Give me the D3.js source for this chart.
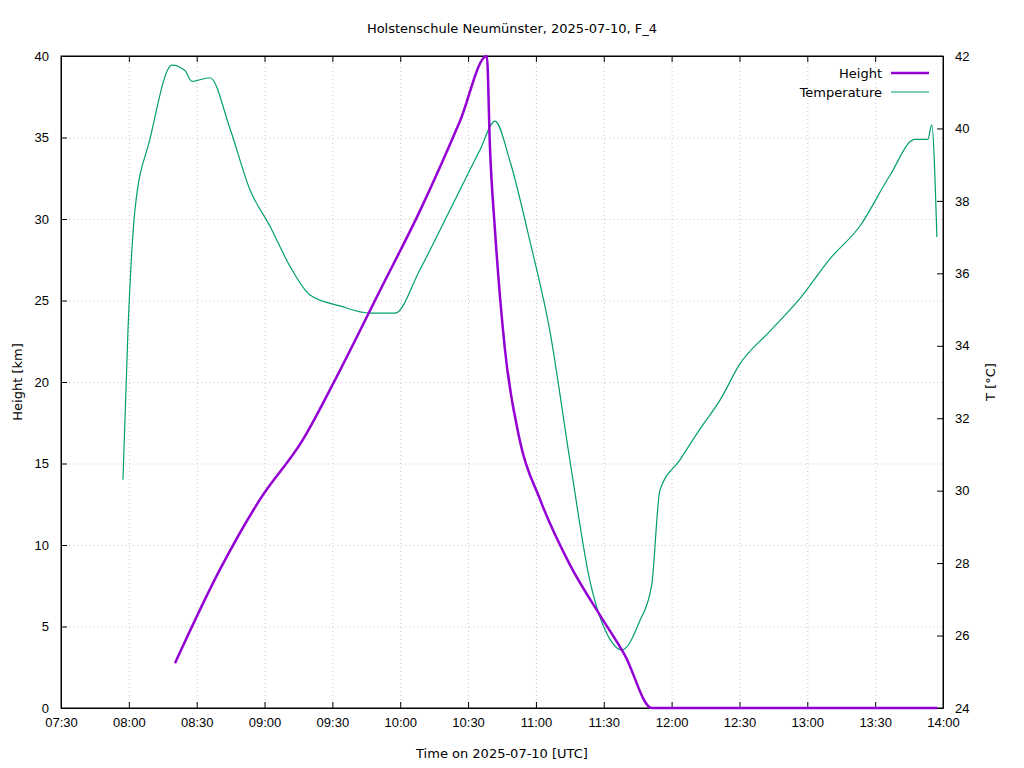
<!DOCTYPE html>
<html lang="en">
<head>
<meta charset="UTF-8">
<title>Holstenschule Neumünster</title>
<script src="https://d3js.org/d3.v7.min.js"></script>
<style>
  body { margin: 0; background: #fff; }
  svg { font-family: "DejaVu Sans", sans-serif; font-size: 13px; }
  .grid line { stroke: #c8c8c8; stroke-dasharray: 1,3; }
</style>
</head>
<body>
<svg width="1024" height="768"></svg>
<script>
// height track [km]
let heightTimes = ["08:20:24","08:40:18","08:58:00","09:16:42","09:33:18","09:51:00","10:08:42","10:26:24","10:38:18",
                   "10:39:42","10:41:54","10:46:18","10:52:54","11:01:48","11:15:00","11:28:18","11:39:18","11:51:18","13:57:30"];
let heightKm = [2.75, 8.5, 12.8, 16.4, 20.7, 25.6, 30.5, 36, 40,
                34.3, 29.3, 22, 16.4, 12.8, 8.8, 5.7, 3.25, 0, 0];

// temperature track [°C]
let tempTimes = ["07:57:24","07:59:36","08:02:42","08:09:18","08:19:06","08:24:48","08:27:54","08:35:54","08:44:42",
                 "08:53:36","09:02:24","09:11:12","09:20:06","09:33:18","09:46:36","09:57:42","10:08:42","10:22:00",
                 "10:35:12","10:41:54","10:48:30","10:57:18","11:06:12","11:15:00","11:23:54","11:32:42","11:38:00",
                 "11:45:54","11:51:12","11:54:48","12:03:42","12:12:30","12:21:24","12:30:12","12:43:24","12:56:42",
                 "13:10:00","13:23:12","13:36:30","13:47:30","13:53:18","13:55:00","13:57:18"];
let tempC = [30.3, 34.4, 37.75, 39.7, 41.75, 41.6, 41.3, 41.4, 40,
             38.3, 37.3, 36.2, 35.4, 35.1, 34.9, 34.9, 36.1, 37.75,
             39.4, 40.2, 39.1, 36.9, 34.4, 30.85, 27.5, 25.9, 25.6,
             26.4, 27.4, 30, 30.85, 31.7, 32.5, 33.5, 34.4, 35.3,
             36.4, 37.3, 38.7, 39.7, 39.7, 40.1, 37];

let xTicks = ["07:30","08:00","08:30","09:00","09:30","10:00","10:30","11:00","11:30","12:00","12:30","13:00","13:30","14:00"];

let parse = d3.timeParse("%H:%M:%S");
let svg = d3.select("svg");
let m = {left: 61, right: 81, top: 56, bottom: 60};
let w = 1024 - m.left - m.right, h = 768 - m.top - m.bottom;
let g = svg.append("g").attr("transform", "translate(" + m.left + "," + m.top + ")");

let x = d3.scaleTime().domain([parse("07:30:00"), parse("14:00:00")]).range([0, w]);
let yL = d3.scaleLinear().domain([0, 40]).range([h, 0]);
let yR = d3.scaleLinear().domain([24, 42]).range([h, 0]);
let tickDates = xTicks.map(t => parse(t + ":00"));

// grid
g.append("g").attr("class", "grid").attr("transform", "translate(0," + h + ")")
  .call(d3.axisBottom(x).tickValues(tickDates).tickSize(-h).tickFormat(""))
  .call(a => a.select(".domain").remove());
g.append("g").attr("class", "grid")
  .call(d3.axisLeft(yL).ticks(8).tickSize(-w).tickFormat(""))
  .call(a => a.select(".domain").remove());

// axes
function style(a) { a.selectAll("text").attr("fill", "#000").style("font-size", "13px"); a.selectAll("line,path").attr("stroke", "#000"); }
g.append("g").attr("transform", "translate(0," + h + ")")
  .call(d3.axisBottom(x).tickValues(tickDates).tickSizeInner(-6).tickSizeOuter(0).tickPadding(10).tickFormat(d3.timeFormat("%H:%M"))).call(style);
g.append("g").call(d3.axisLeft(yL).ticks(8).tickSizeInner(-6).tickSizeOuter(0).tickPadding(12)).call(style);
g.append("g").attr("transform", "translate(" + w + ",0)")
  .call(d3.axisRight(yR).ticks(9).tickSizeInner(-6).tickSizeOuter(0).tickPadding(12)).call(style);
g.append("g")
  .call(d3.axisTop(x).tickValues(tickDates).tickSizeInner(-6).tickSizeOuter(0).tickFormat("")).call(style);
g.append("rect").attr("width", w).attr("height", h).attr("fill", "none").attr("stroke", "#000");

// lines
let tData = tempTimes.map((t, i) => [parse(t), tempC[i]]);
let hData = heightTimes.map((t, i) => [parse(t), heightKm[i]]);
g.append("path").datum(tData).attr("fill", "none").attr("stroke", "#009e73").attr("stroke-width", 1.2)
  .attr("d", d3.line().x(d => x(d[0])).y(d => yR(d[1])).curve(d3.curveMonotoneX));
g.append("path").datum(hData).attr("fill", "none").attr("stroke", "#9400d3").attr("stroke-width", 2.5)
  .attr("d", d3.line().x(d => x(d[0])).y(d => yL(d[1])).curve(d3.curveMonotoneX));

// titles
svg.append("text").attr("x", 512).attr("y", 33).attr("text-anchor", "middle").text("Holstenschule Neumünster, 2025-07-10, F_4");
svg.append("text").attr("x", m.left + w / 2).attr("y", 758).attr("text-anchor", "middle").text("Time on 2025-07-10 [UTC]");
svg.append("text").attr("transform", "translate(22," + (m.top + h / 2) + ") rotate(-90)").attr("text-anchor", "middle").text("Height [km]");
svg.append("text").attr("transform", "translate(995," + (m.top + h / 2) + ") rotate(-90)").attr("text-anchor", "middle").text("T [°C]");

// legend
let legend = [["Height", "#9400d3", 2.5], ["Temperature", "#009e73", 1.2]];
legend.forEach((l, i) => {
  let yy = 73 + i * 19;
  svg.append("text").attr("x", 882).attr("y", yy + 5).attr("text-anchor", "end").text(l[0]);
  svg.append("line").attr("x1", 891).attr("x2", 929).attr("y1", yy).attr("y2", yy).attr("stroke", l[1]).attr("stroke-width", l[2]);
});
</script>
</body>
</html>
